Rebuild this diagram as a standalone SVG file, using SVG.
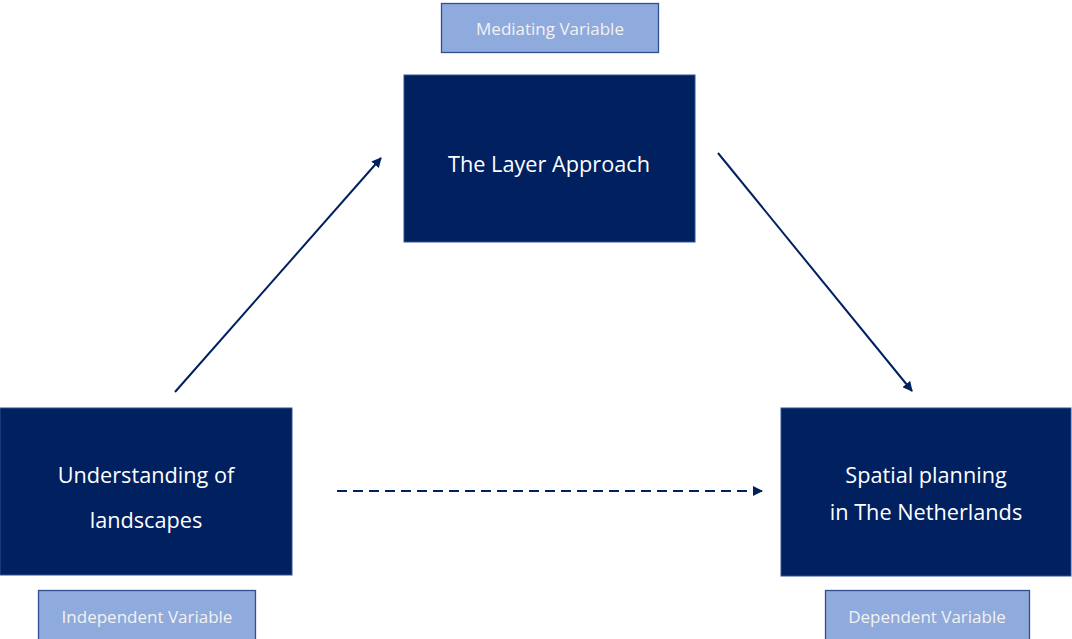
<svg xmlns="http://www.w3.org/2000/svg" width="1072" height="639" viewBox="0 0 1072 639">
<style>
.main{fill:#002060;stroke:#2F528F;stroke-width:1}
.lab{fill:#8FAADC;stroke:#2F528F;stroke-width:1.3}
.mt{font-family:"Open Sans","Liberation Sans",sans-serif;font-size:21.7px;fill:#FFFFFF;text-anchor:middle}
.lt{font-family:"Open Sans","Liberation Sans",sans-serif;font-size:17px;fill:#F2F2F2;text-anchor:middle}
.c{stroke:#002060;stroke-width:2;fill:none}
</style>
<defs>
<marker id="ah" viewBox="0 0 10 10" refX="9" refY="5" markerWidth="5" markerHeight="5" orient="auto" markerUnits="strokeWidth">
<path d="M0,0 L10,5 L0,10 z" fill="#002060"/>
</marker>
</defs>
<rect width="1072" height="639" fill="#FFFFFF"/>
<g id="mediating-label"><rect class="lab" x="441.5" y="3.5" width="217" height="49"/><text class="lt" x="550" y="35">Mediating Variable</text></g>
<g id="layer-approach"><rect class="main" x="404" y="75" width="291" height="167"/><text class="mt" x="549" y="172">The Layer Approach</text></g>
<g id="understanding"><rect class="main" x="0" y="408" width="292" height="167"/><text class="mt" x="146" y="483">Understanding of</text><text class="mt" x="146" y="528">landscapes</text></g>
<g id="spatial-planning"><rect class="main" x="781" y="408" width="290" height="168"/><text class="mt" x="926" y="483">Spatial planning</text><text class="mt" x="926" y="520">in The Netherlands</text></g>
<g id="independent-label"><rect class="lab" x="38.5" y="590.5" width="217" height="60"/><text class="lt" x="147" y="623">Independent Variable</text></g>
<g id="dependent-label"><rect class="lab" x="825.5" y="590.5" width="204" height="60"/><text class="lt" x="927" y="623">Dependent Variable</text></g>
<g id="connectors">
<line class="c" x1="175" y1="392" x2="381" y2="158" marker-end="url(#ah)"/>
<line class="c" x1="718" y1="153" x2="912" y2="391" marker-end="url(#ah)"/>
<line class="c" x1="337" y1="491" x2="762" y2="491" stroke-dasharray="10,6" marker-end="url(#ah)"/>
</g>
</svg>
